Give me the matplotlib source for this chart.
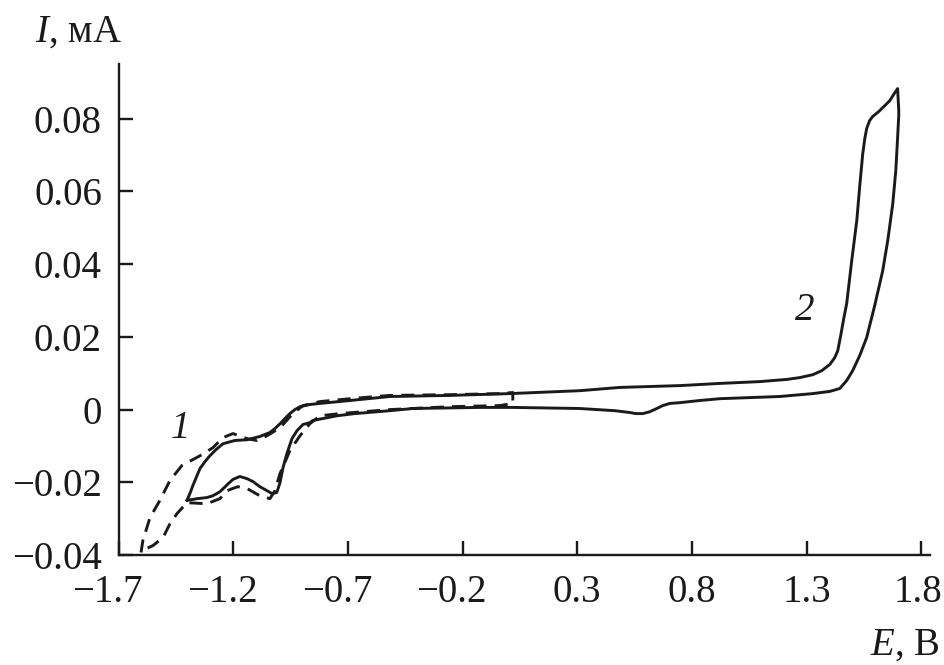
import matplotlib
matplotlib.use("Agg")
import matplotlib.pyplot as plt
from matplotlib.ticker import FixedLocator, FixedFormatter
from matplotlib.transforms import ScaledTranslation

plt.rcParams['font.family'] = ['Liberation Serif', 'DejaVu Serif']
plt.rcParams['mathtext.fontset'] = 'custom'
plt.rcParams['mathtext.rm'] = 'Liberation Serif'
plt.rcParams['mathtext.it'] = 'Liberation Serif:italic'

# Curve 2 (solid), potential E in V, current I in mA
e2 = [-1.402, -1.389, -1.376, -1.345, -1.323, -1.302, -1.275, -1.245, -1.193, -1.140,
      -1.084, -1.040, -1.018, -0.996, -0.975, -0.953, -0.931, -0.909, -0.866, -0.822,
      -0.691, -0.517, -0.255, 0.006, 0.311, 0.486, 0.747, 0.922, 1.096, 1.214,
      1.270, 1.327, 1.366, 1.401, 1.423, 1.436, 1.449, 1.462, 1.475, 1.497,
      1.519, 1.532, 1.545, 1.554, 1.562, 1.575, 1.588, 1.615, 1.641, 1.663,
      1.680, 1.697,
      1.702, 1.702, 1.697, 1.689, 1.676, 1.654, 1.632, 1.597, 1.562, 1.532,
      1.501, 1.475, 1.445, 1.401, 1.327, 1.183, 0.922, 0.834, 0.747, 0.704,
      0.673, 0.647, 0.616, 0.586, 0.555, 0.529, 0.464, 0.311, 0.019, -0.125,
      -0.417, -0.517, -0.670, -0.748, -0.853, -0.866, -0.896, -0.922, -0.944, -0.966,
      -0.983, -0.996, -1.010, -1.031, -1.053, -1.084, -1.114, -1.140, -1.171, -1.201,
      -1.227, -1.258, -1.289, -1.315, -1.358, -1.402]
i2 = [-0.0250, -0.0231, -0.0209, -0.0162, -0.0143, -0.0127, -0.0110, -0.0094, -0.0085, -0.0083,
      -0.0074, -0.0063, -0.0052, -0.0039, -0.0025, -0.0011, 0.0000, 0.0008, 0.0014, 0.0017,
      0.0025, 0.0036, 0.0039, 0.0044, 0.0052, 0.0061, 0.0066, 0.0072, 0.0077, 0.0083,
      0.0088, 0.0096, 0.0107, 0.0124, 0.0143, 0.0162, 0.0204, 0.0250, 0.0292, 0.0410,
      0.0520, 0.0616, 0.0704, 0.0746, 0.0773, 0.0795, 0.0806, 0.0820, 0.0836, 0.0850,
      0.0867, 0.0883,
      0.0823, 0.0809, 0.0748, 0.0657, 0.0567, 0.0465, 0.0382, 0.0286, 0.0198, 0.0149,
      0.0107, 0.0080, 0.0058, 0.0050, 0.0044, 0.0036, 0.0030, 0.0025, 0.0019, 0.0017,
      0.0011, 0.0003, -0.0006, -0.0011, -0.0011, -0.0008, -0.0003, 0.0003, 0.0006, 0.0006,
      0.0003, -0.0003, -0.0011, -0.0017, -0.0030, -0.0036, -0.0041, -0.0058, -0.0080, -0.0121,
      -0.0160, -0.0201, -0.0228, -0.0231, -0.0223, -0.0212, -0.0198, -0.0190, -0.0184, -0.0192,
      -0.0207, -0.0226, -0.0237, -0.0242, -0.0245, -0.0250]

# Curve 1 (dashed)
e1 = [-1.602, -1.594, -1.563, -1.520, -1.476, -1.424, -1.345, -1.289, -1.245, -1.201,
      -1.140, -1.097, -1.053, -0.996, -0.940, -0.896, -0.822, -0.691, -0.517, -0.255,
      -0.037, 0.019,
      0.019, -0.037, -0.255, -0.517, -0.735, -0.822, -0.866, -0.909, -0.953, -0.996,
      -1.018, -1.040, -1.084, -1.140, -1.180, -1.227, -1.258, -1.315, -1.402, -1.445,
      -1.476, -1.506, -1.550, -1.597]
i1 = [-0.0393, -0.0360, -0.0297, -0.0250, -0.0195, -0.0154, -0.0127, -0.0105, -0.0077, -0.0066,
      -0.0080, -0.0085, -0.0072, -0.0050, -0.0011, 0.0011, 0.0022, 0.0030, 0.0039, 0.0041,
      0.0044, 0.0047,
      0.0017, 0.0011, 0.0008, 0.0000, -0.0011, -0.0017, -0.0039, -0.0072, -0.0113, -0.0176,
      -0.0223, -0.0245, -0.0237, -0.0217, -0.0212, -0.0223, -0.0245, -0.0259, -0.0256, -0.0286,
      -0.0314, -0.0352, -0.0374, -0.0388]

xticks = [-1.7, -1.2, -0.7, -0.2, 0.3, 0.8, 1.3, 1.8]
xticklabels = ["\u22121.7", "\u22121.2", "\u22120.7", "\u22120.2", "0.3", "0.8", "1.3", "1.8"]
yticks = [-0.04, -0.02, 0.0, 0.02, 0.04, 0.06, 0.08]
yticklabels = ["\u22120.04", "\u22120.02", "0", "0.02", "0.04", "0.06", "0.08"]

FS = 28
INK = '#1a1a1a'

fig = plt.figure(figsize=(9.44, 6.65), dpi=100)
ax = fig.add_axes([0.1256, 0.1654, 0.860, 0.738])

ax.plot(e2, i2, color=INK, lw=2.1, solid_joinstyle='round', solid_capstyle='round')
ax.plot(e1, i1, color=INK, lw=2.1, dashes=(4.5, 2.8))

ax.set_xlim(-1.7, 1.84)
ax.set_ylim(-0.04, 0.095)
ax.xaxis.set_major_locator(FixedLocator(xticks))
ax.xaxis.set_major_formatter(FixedFormatter(xticklabels))
ax.yaxis.set_major_locator(FixedLocator(yticks))
ax.yaxis.set_major_formatter(FixedFormatter(yticklabels))

for s in ['top', 'right']:
    ax.spines[s].set_visible(False)
for s in ['left', 'bottom']:
    ax.spines[s].set_linewidth(1.7)
    ax.spines[s].set_color(INK)

ax.tick_params(direction='in', length=10, width=1.7, labelsize=FS, colors=INK)
ax.tick_params(axis='x', pad=14)
ax.tick_params(axis='y', pad=12)

# centre the digits of negative x labels on their ticks (minus hangs left)
fig.canvas.draw()
for lab in ax.get_xticklabels():
    if lab.get_text().startswith("\u2212"):
        lab.set_transform(lab.get_transform() + ScaledTranslation(-8 / 72, 0, fig.dpi_scale_trans))
    if lab.get_text() == "1.8":
        lab.set_transform(lab.get_transform() + ScaledTranslation(-2 / 72, 0, fig.dpi_scale_trans))

ax.text(-1.432, -0.0052, "1", fontsize=FS, style='italic', ha='center', va='center', color=INK)
ax.text(1.292, 0.0272, "2", fontsize=FS, style='italic', ha='center', va='center', color=INK)

fig.text(0.037, 0.938, r"$I$, мА", fontsize=FS, ha='left', va='baseline', color=INK)
fig.text(0.995, 0.016, r"$E$, В", fontsize=FS, ha='right', va='baseline', color=INK)

fig.savefig("out.png", dpi=100)
